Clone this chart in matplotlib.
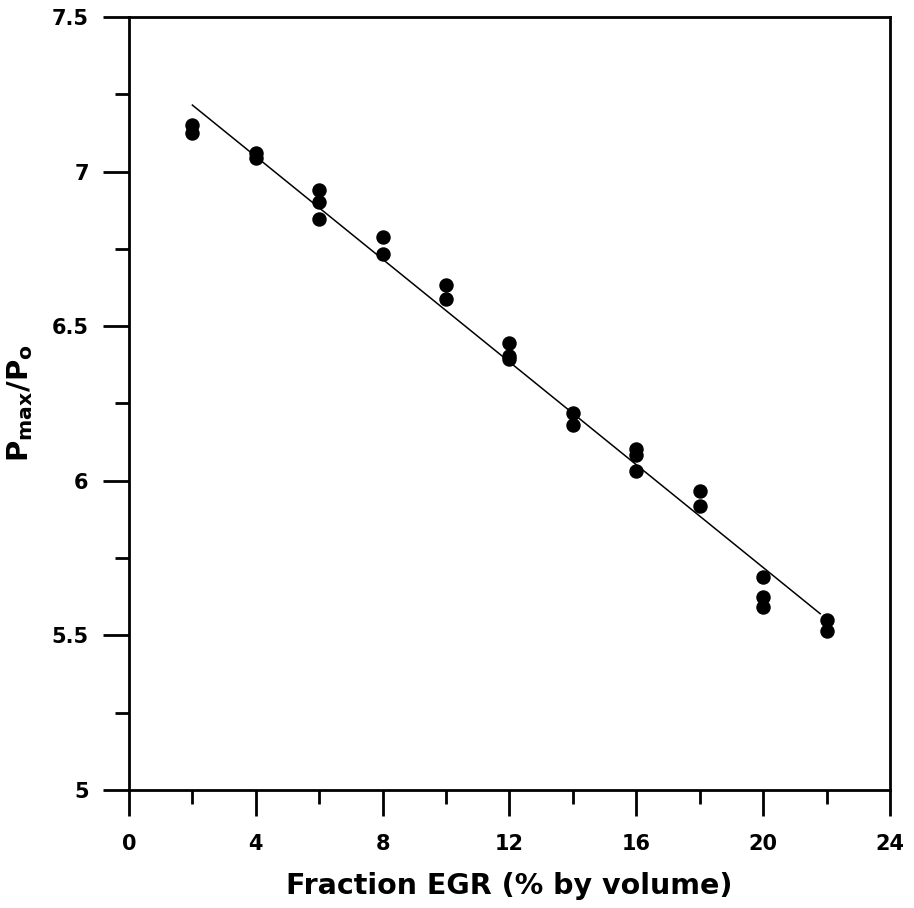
import numpy as np
import matplotlib
matplotlib.use("Agg")
import matplotlib.pyplot as plt

# EGR fraction (% by volume) and measured pressure ratio Pmax/Po
egr = [2, 2, 4, 4, 6, 6, 6, 8, 8, 10, 10, 12, 12, 12, 14, 14,
       16, 16, 16, 18, 18, 20, 20, 20, 22, 22]
p_ratio = [7.15, 7.125, 7.06, 7.044, 6.94, 6.90, 6.847, 6.788, 6.733,
           6.633, 6.588, 6.446, 6.405, 6.395, 6.219, 6.180,
           6.103, 6.083, 6.032, 5.967, 5.918, 5.689, 5.624, 5.592,
           5.550, 5.514]

# fitted straight line (endpoints)
fit_x = [2, 21.8]
fit_y = [7.215, 5.57]

x_ticks = [0, 4, 8, 12, 16, 20, 24]
y_ticks = [5, 5.5, 6, 6.5, 7, 7.5]
y_labels = ["5", "5.5", "6", "6.5", "7", "7.5"]

plt.rcParams["font.family"] = "DejaVu Sans"
plt.rcParams["font.weight"] = "bold"
plt.rcParams["mathtext.fontset"] = "dejavusans"

fig = plt.figure(figsize=(9.14, 9.08), dpi=100)
ax = fig.add_axes([0.1411, 0.130, 0.8326, 0.8513])

ax.plot(fit_x, fit_y, color="black", lw=1.1)
ax.plot(egr, p_ratio, "o", color="black", ms=9.4, mec="black")

ax.set_xlim(0, 24)
ax.set_ylim(5, 7.5)
ax.set_xticks(x_ticks)
ax.set_xticks(np.arange(2, 24, 4), minor=True)
ax.set_yticks(y_ticks)
ax.set_yticklabels(y_labels)
ax.set_yticks(np.arange(5.25, 7.5, 0.5), minor=True)

for s in ax.spines.values():
    s.set_linewidth(2.0)
    s.set_color("black")

ax.tick_params(axis="both", which="major", direction="out", length=19,
               width=2.0, labelsize=15)
ax.tick_params(axis="both", which="minor", direction="out", length=10,
               width=2.0)
ax.tick_params(axis="x", which="major", pad=13)
ax.tick_params(axis="y", which="major", pad=10)

ax.set_xlabel("Fraction EGR (% by volume)", fontsize=20.5, fontweight="bold",
              labelpad=13)
ax.set_ylabel(r"$\mathbf{P}_{\mathbf{max}}\mathbf{/P}_{\mathbf{o}}$",
              fontsize=21, labelpad=12)

fig.savefig("out.png", dpi=100)
